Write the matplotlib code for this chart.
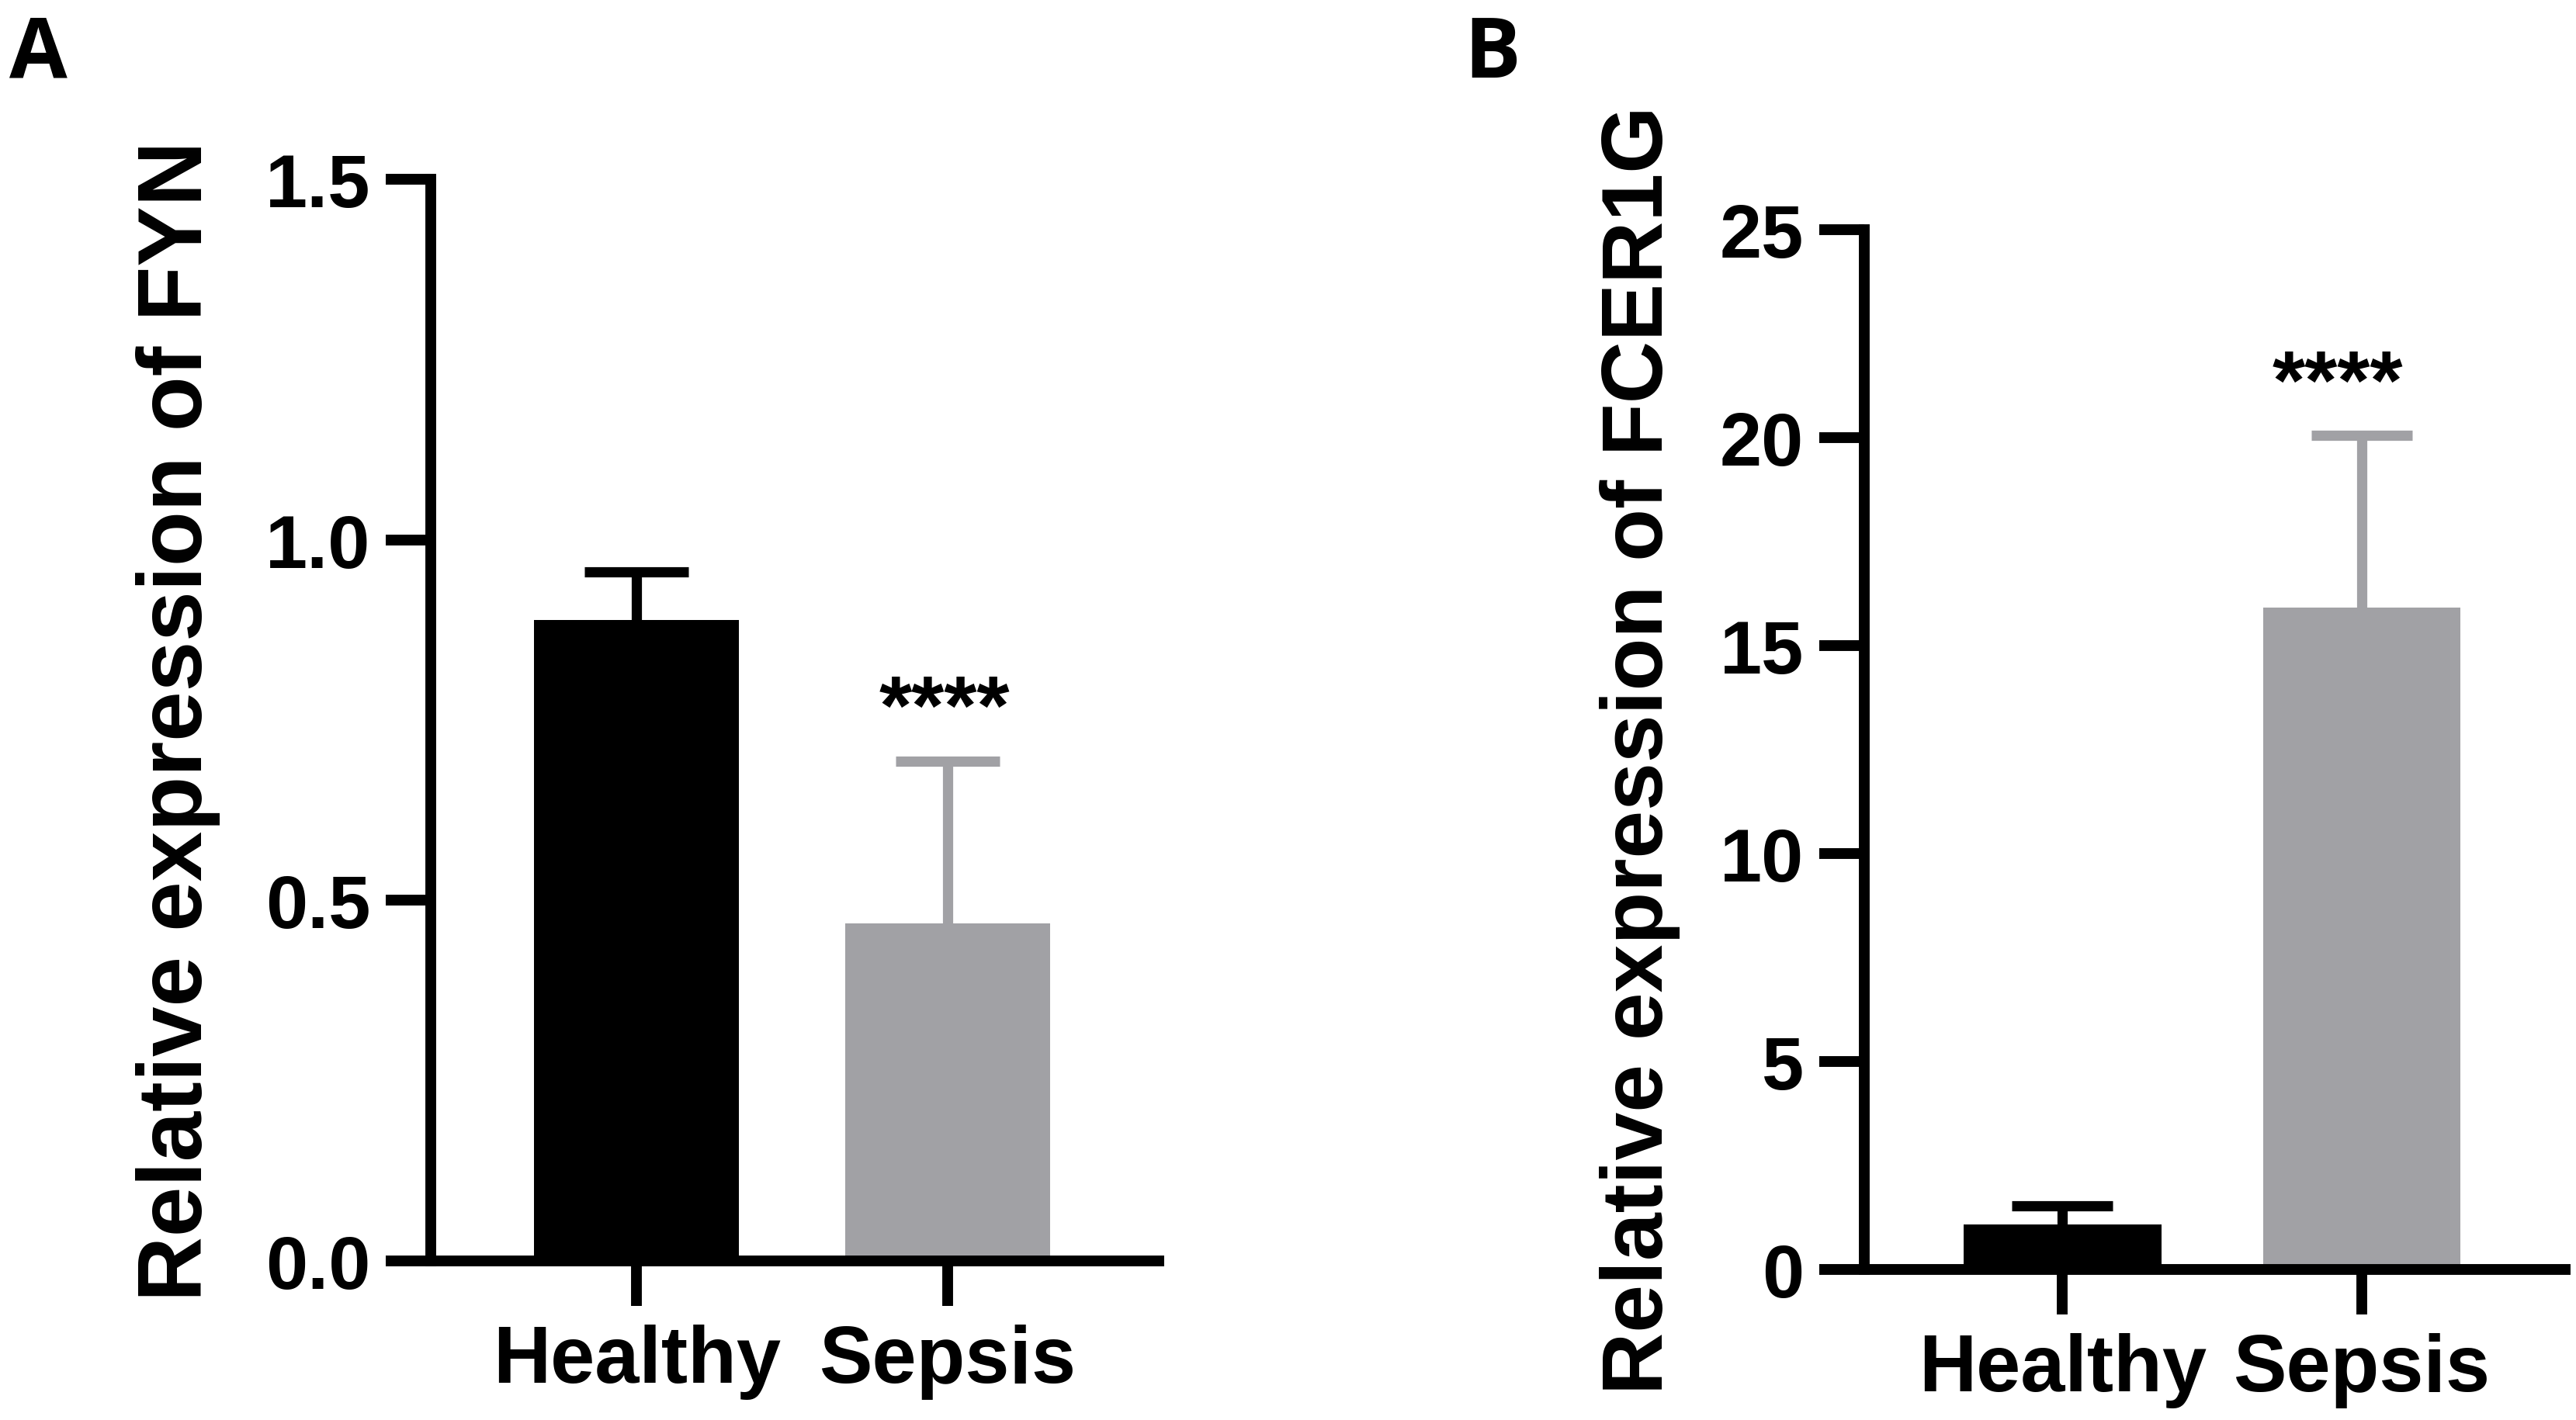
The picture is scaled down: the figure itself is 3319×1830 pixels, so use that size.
import matplotlib
matplotlib.use("Agg")
import matplotlib.pyplot as plt

# ---- data ----
groups = ["Healthy", "Sepsis"]
fyn_mean = [0.889, 0.468]
fyn_sd = [0.067, 0.225]
fcer1g_mean = [1.08, 15.92]
fcer1g_sd = [0.45, 4.14]
fyn_ticks = [0.0, 0.5, 1.0, 1.5]
fyn_ticklabels = ["0.0", "0.5", "1.0", "1.5"]
fcer1g_ticks = [0, 5, 10, 15, 20, 25]
fcer1g_ticklabels = ["0", "5", "10", "15", "20", "25"]
signif = ["", "****"]
bar_colors = ["#000000", "#A1A1A5"]

W, H = 3319, 1831
DPI = 100
fig = plt.figure(figsize=(W / DPI, H / DPI), dpi=DPI)
fig.patch.set_facecolor("white")

FONT = ["Liberation Sans", "DejaVu Sans"]
LW = 10
TICK_LEN = 42


def px_rect(left, right, top, bottom):
    return [left / W, (H - bottom) / H, (right - left) / W, (bottom - top) / H]


def panel(rect, means, sds, ymax, ticks, ticklabels, ylabel, ylabel_x_px, ylabel_fs,
          star_dx, capsize):
    ax = fig.add_axes(rect)
    x = list(range(len(groups)))
    for i in x:
        ax.bar(i, means[i], width=0.66, color=bar_colors[i], zorder=2)
        _, caps, _ = ax.errorbar(i, means[i], yerr=[[0], [sds[i]]], fmt="none",
                                 ecolor=bar_colors[i], elinewidth=9.5, capsize=capsize,
                                 capthick=9.5, zorder=3)
        for c in caps:
            if abs(c.get_ydata()[0] - means[i]) < 1e-9:
                c.remove()
    ax.set_xlim(-0.6625, 1.68)
    ax.set_ylim(0, ymax)
    ax.set_yticks(ticks)
    ax.set_yticklabels(ticklabels, fontfamily=FONT, fontweight="bold", fontsize=70)
    ax.set_xticks(x)
    ax.set_xticklabels(groups, fontfamily=FONT, fontweight="bold", fontsize=74)
    for s in ["top", "right"]:
        ax.spines[s].set_visible(False)
    for s in ["left", "bottom"]:
        ax.spines[s].set_linewidth(LW)
        ax.spines[s].set_capstyle("projecting")
    ax.tick_params(axis="both", direction="out", length=TICK_LEN, width=LW, color="black")
    ax.tick_params(axis="y", pad=14)
    ax.tick_params(axis="x", pad=16)
    # y label
    bb = ax.get_position()
    fx = ylabel_x_px / W
    fig.text(fx, bb.y0 + bb.height / 2, ylabel, rotation=90, ha="center", va="center",
             fontfamily=FONT, fontweight="bold", fontsize=ylabel_fs)
    # significance
    for i in x:
        if signif[i]:
            ax.text(i + star_dx, means[i] + sds[i] + 0.026 * ymax, signif[i],
                    ha="center", va="baseline", fontfamily=FONT,
                    fontweight="bold", fontsize=78)
    return ax


axA = panel(px_rect(555, 1493, 232, 1626), fyn_mean, fyn_sd, 1.5, fyn_ticks,
            fyn_ticklabels, "Relative expression of FYN", 230, 83.5, -0.01, 48)
axB = panel(px_rect(2402, 3305, 297, 1637), fcer1g_mean, fcer1g_sd, 25, fcer1g_ticks,
            fcer1g_ticklabels, "Relative expression of FCER1G", 2113, 80, -0.08, 46.5)

LBL_FONT = ["Open Sans", "Liberation Sans", "DejaVu Sans"]
fig.text(12 / W, 1 - 18 / H, "A", ha="left", va="top", fontfamily=LBL_FONT,
         fontweight="bold", fontsize=78)
fig.text(1886 / W, 1 - 18 / H, "B", ha="left", va="top", fontfamily=LBL_FONT,
         fontweight="bold", fontsize=78)

fig.savefig("out.png", dpi=DPI, facecolor="white")
